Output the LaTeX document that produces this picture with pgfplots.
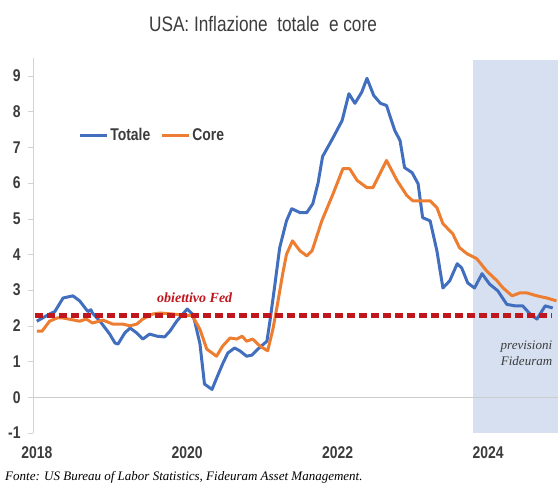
\documentclass[border=0pt]{standalone}
\usepackage{fontspec}
\setmainfont{Liberation Sans}[FakeStretch=0.82]
\newfontfamily\serifit{Liberation Serif}
\usepackage{pgfplots}
\pgfplotsset{compat=1.18}

\definecolor{totblue}{RGB}{66,110,190}
\definecolor{coreorange}{RGB}{237,125,49}
\definecolor{fedred}{RGB}{192,22,30}
\definecolor{fcast}{RGB}{214,224,240}
\definecolor{txtgray}{RGB}{60,60,60}

\begin{document}
\begin{tikzpicture}
  \begin{axis}[
      at={(33pt,54pt)}, anchor=south west,
      scale only axis,
      width=525pt, height=375pt,
      xmin=2017.95, xmax=2024.93,
      ymin=-1, ymax=9.5,
      axis y line=left,
      axis line style={gray!35, -},
      hide x axis,
      ytick={-1,0,...,9},
      tick align=outside,
      major tick length=5pt,
      tick style={gray!35},
      /pgf/number format/assume math mode=true,
      yticklabel style={font=\bfseries\fontsize{17}{20}\selectfont, text=txtgray, xshift=-4pt},
      clip=false,
      legend columns=2,
      legend style={at={(axis cs:2018.55,7.33)}, anchor=west, draw=none, fill=none,
        inner sep=0pt, font=\bfseries\fontsize{17}{20}\selectfont, text=txtgray,
        /tikz/every even column/.append style={column sep=8pt}},
      legend image code/.code={\draw[#1] (0pt,0pt) -- (27pt,0pt);},
    ]
    % forecast band
    \fill[fcast] (axis cs:2023.80,-1) rectangle (axis cs:2024.93,9.44);
    % zero line
    \addplot[gray!40, line width=0.8pt, forget plot] coordinates {(2017.95,0) (2024.93,0)};
    % year labels
    \node[font=\bfseries\fontsize{17}{20}\selectfont, text=txtgray] at (axis cs:2018,-1.55) {2018};
    \node[font=\bfseries\fontsize{17}{20}\selectfont, text=txtgray] at (axis cs:2020,-1.55) {2020};
    \node[font=\bfseries\fontsize{17}{20}\selectfont, text=txtgray] at (axis cs:2022,-1.55) {2022};
    \node[font=\bfseries\fontsize{17}{20}\selectfont, text=txtgray] at (axis cs:2024,-1.55) {2024};

    \addplot[totblue, line width=3pt, line join=round] coordinates {
      (2018.00,2.13) (2018.17,2.33) (2018.24,2.40) (2018.35,2.78) (2018.48,2.84)
      (2018.57,2.70) (2018.68,2.40) (2018.72,2.45) (2018.74,2.36) (2018.84,2.13)
      (2018.97,1.77) (2019.04,1.52) (2019.08,1.49) (2019.17,1.80) (2019.24,1.94)
      (2019.33,1.80) (2019.41,1.63) (2019.50,1.77) (2019.60,1.71) (2019.70,1.69)
      (2019.77,1.85) (2019.86,2.13) (2020.00,2.47) (2020.07,2.33) (2020.10,2.13)
      (2020.17,1.49) (2020.23,0.37) (2020.33,0.22) (2020.39,0.53) (2020.47,0.93)
      (2020.54,1.24) (2020.63,1.38) (2020.70,1.30) (2020.79,1.15) (2020.86,1.18)
      (2020.94,1.35) (2021.06,1.57) (2021.10,2.13) (2021.16,3.06) (2021.23,4.19)
      (2021.32,4.94) (2021.39,5.28) (2021.50,5.17) (2021.59,5.17) (2021.67,5.42)
      (2021.74,6.00) (2021.80,6.74) (2021.94,7.27) (2022.06,7.75) (2022.15,8.50)
      (2022.23,8.23) (2022.32,8.54) (2022.39,8.93) (2022.48,8.45) (2022.57,8.23)
      (2022.65,8.17) (2022.76,7.47) (2022.83,7.19) (2022.89,6.43) (2022.99,6.29)
      (2023.07,5.98) (2023.13,5.03) (2023.23,4.94) (2023.32,4.10) (2023.40,3.06)
      (2023.49,3.26) (2023.59,3.74) (2023.65,3.62) (2023.73,3.20) (2023.82,3.06)
      (2023.92,3.46) (2024.02,3.17) (2024.13,2.98) (2024.25,2.60) (2024.36,2.56)
      (2024.46,2.56) (2024.56,2.33) (2024.65,2.19) (2024.76,2.56) (2024.86,2.50)
    };
    \addlegendentry{Totale}

    \addplot[coreorange, line width=3pt, line join=round] coordinates {
      (2018.00,1.85) (2018.07,1.85) (2018.17,2.13) (2018.27,2.22) (2018.35,2.22)
      (2018.57,2.13) (2018.66,2.19) (2018.74,2.08) (2018.88,2.16) (2019.01,2.05)
      (2019.14,2.05) (2019.24,2.00) (2019.33,2.05) (2019.41,2.19) (2019.54,2.33)
      (2019.64,2.36) (2019.81,2.33) (2019.94,2.30) (2020.07,2.28) (2020.17,1.90)
      (2020.26,1.35) (2020.39,1.15) (2020.47,1.43) (2020.57,1.66) (2020.66,1.63)
      (2020.73,1.71) (2020.79,1.57) (2020.87,1.63) (2020.97,1.43) (2021.07,1.30)
      (2021.14,1.91) (2021.20,2.60) (2021.27,3.46) (2021.32,4.00) (2021.40,4.38)
      (2021.50,4.10) (2021.59,3.96) (2021.66,4.10) (2021.79,4.94) (2021.94,5.70)
      (2022.07,6.40) (2022.16,6.40) (2022.26,6.07) (2022.39,5.87) (2022.47,5.87)
      (2022.65,6.63) (2022.79,6.07) (2022.92,5.65) (2023.00,5.50) (2023.23,5.50)
      (2023.32,5.31) (2023.40,4.86) (2023.53,4.58) (2023.62,4.19) (2023.72,4.02)
      (2023.85,3.88) (2023.98,3.54) (2024.12,3.26) (2024.20,3.06) (2024.32,2.84)
      (2024.42,2.92) (2024.52,2.92) (2024.65,2.84) (2024.78,2.78) (2024.91,2.70)
    };
    \addlegendentry{Core}

    % Fed target
    \addplot[fedred, line width=5pt, dash pattern=on 8pt off 4pt, forget plot]
      coordinates {(2017.98,2.3) (2024.85,2.3)};
    \node[font=\serifit\itshape\bfseries\fontsize{14}{16}\selectfont, text=fedred]
      at (axis cs:2020.10,2.80) {obiettivo Fed};
    \node[font=\serifit\itshape\fontsize{13}{16}\selectfont, text=txtgray, align=right,
      anchor=east] at (axis cs:2024.90,1.24) {previsioni\\Fideuram};
  \end{axis}
  \pgfresetboundingbox
  \path (0,0) rectangle (558pt,487pt);
  \node[font=\fontsize{21}{24}\selectfont, text=txtgray] at (263pt,463pt)
    {USA: Inflazione\ \ totale\ \ e core};
  \node[font=\serifit\itshape\fontsize{13}{16}\selectfont, anchor=west, inner sep=0pt]
    at (5pt,10pt) {Fonte: US Bureau of Labor Statistics, Fideuram Asset Management.};
\end{tikzpicture}
\end{document}
